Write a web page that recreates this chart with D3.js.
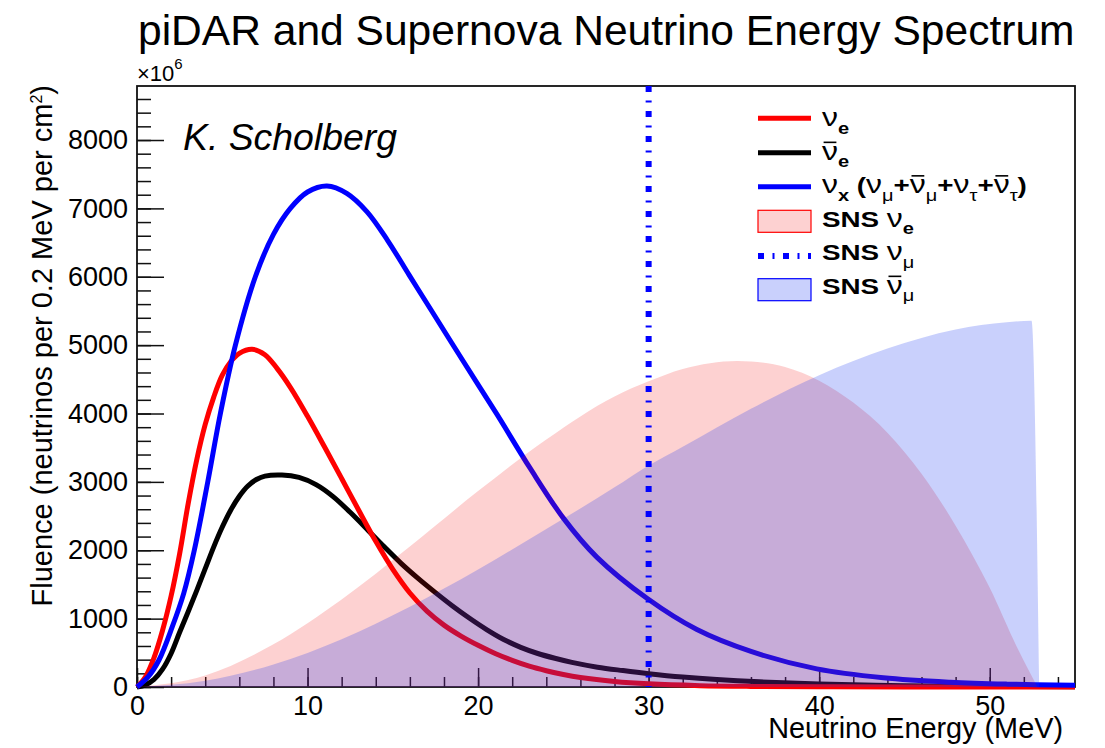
<!DOCTYPE html>
<html><head><meta charset="utf-8">
<script src="https://cdn.jsdelivr.net/npm/d3@7"></script>
<style>
body{margin:0;background:#fff}
svg{display:block}
text{font-family:"Liberation Sans",Arial,Helvetica,sans-serif;fill:#000}
</style>
</head><body>
<svg id="c" width="1105" height="748"></svg>
<script>
// ---------------- data ----------------
const chartTitle = "piDAR and Supernova Neutrino Energy Spectrum";
const xLabel = "Neutrino Energy (MeV)";
const xTicksMajor = [0, 10, 20, 30, 40, 50];
const yTicksMajor = [0, 1000, 2000, 3000, 4000, 5000, 6000, 7000, 8000];
const xDomain = [0, 55];
const yDomain = [0, 8790];

// supernova nu_e (red)
const nueE    = [0, 0.5, 1.0, 1.5, 2.0, 2.5, 3.0, 3.5, 4.0, 4.5, 5.0, 5.5, 6.0, 6.75, 7.5, 8.21, 9.0, 10, 11, 12, 13, 14, 15, 16, 17, 18, 19, 20, 21, 22, 23, 24, 25, 26, 28, 30, 33, 36, 40, 45, 55];
const nueFlux = [0, 150, 430, 830, 1330, 1950, 2680, 3320, 3840, 4240, 4560, 4760, 4880, 4940, 4860, 4660, 4380, 3960, 3510, 3050, 2585, 2130, 1720, 1375, 1110, 905, 745, 610, 490, 390, 305, 238, 182, 138, 80, 46, 20, 9, 3, 1, 0];

// supernova anti-nu_e (black)
const nuebarE    = [0, 0.5, 1.0, 1.5, 2.0, 2.5, 3.0, 3.5, 4.0, 4.5, 5.0, 5.5, 6.0, 6.5, 7.0, 7.5, 8.5, 9.5, 10.5, 11.5, 12.5, 13.5, 14.5, 15.5, 16.5, 17.5, 18.5, 19.5, 20.5, 21.5, 22.5, 23.5, 24.5, 25.5, 27, 28.5, 30, 32, 34, 36.5, 40, 45, 50, 55];
const nuebarFlux = [0, 30, 110, 260, 490, 800, 1100, 1410, 1730, 2050, 2340, 2590, 2790, 2940, 3035, 3085, 3101, 3065, 2960, 2785, 2555, 2305, 2050, 1805, 1585, 1380, 1185, 1005, 840, 695, 580, 490, 420, 360, 290, 240, 195, 145, 108, 75, 45, 20, 9, 4];

// supernova nu_x (blue)
const nuxE    = [0, 0.66, 1.29, 2.07, 2.74, 3.36, 4.15, 4.89, 5.77, 6.94, 8.0, 8.99, 10.0, 11.14, 12.3, 13.49, 14.7, 15.97, 17.18, 19.14, 21.1, 23.05, 25, 26.96, 29.9, 32.83, 36, 39.86, 43.76, 47.7, 51, 55];
const nuxFlux = [0, 151, 395, 882, 1370, 2000, 3000, 4000, 5000, 6000, 6620, 7000, 7240, 7328, 7220, 6950, 6530, 6020, 5540, 4760, 3990, 3200, 2470, 1900, 1297, 840, 520, 265, 135, 70, 42, 25];

// SNS (pion decay at rest) nu_e (pink fill)
const snsNueE    = [0, 4, 8, 12, 16, 20, 24, 28, 30, 32, 35.2, 36, 38, 40, 42, 44, 46, 48, 50, 51.6, 52.8];
const snsNueFlux = [0, 170, 625, 1280, 2055, 2865, 3620, 4250, 4470, 4650, 4768, 4760, 4680, 4480, 4160, 3720, 3120, 2360, 1450, 580, 0];

// SNS anti-nu_mu (light blue fill)
const snsNumubarE    = [0, 4, 8, 12, 16, 20, 24, 28, 30, 32, 36, 40, 44, 48, 51, 52.45, 52.9];
const snsNumubarFlux = [0, 90, 330, 700, 1175, 1720, 2310, 2920, 3240, 3515, 4070, 4560, 4950, 5230, 5335, 5355, 0];

// SNS nu_mu: monochromatic line
const snsNumuE = 30;

// ---------------- layout ----------------
const svg = d3.select("#c");
const L = 137, R = 1075, T = 86, B = 687;
const x = d3.scaleLinear().domain(xDomain).range([L, R]);
const y = d3.scaleLinear().domain(yDomain).range([B, T]);

const xMinor = d3.range(0, 55, 2);
const yMinor = d3.range(0, 8790, 200);

function styleAxis(g){
  g.select(".domain").remove();
  g.selectAll(".tick line").attr("stroke", "#111").attr("stroke-width", 1.5);
  g.selectAll(".tick text").attr("font-size", 27).attr("font-family", "Liberation Sans, Arial, sans-serif").attr("fill", "#000");
}
svg.append("g").attr("transform", `translate(${L},0)`)
  .call(d3.axisLeft(y).tickValues(yMinor).tickSize(-14).tickFormat(""))
  .call(styleAxis);
svg.append("g").attr("transform", `translate(${L},0)`)
  .call(d3.axisLeft(y).tickValues(yTicksMajor).tickSize(-27).tickPadding(9).tickFormat(d3.format("d")))
  .call(styleAxis);
svg.append("g").attr("transform", `translate(0,${B})`)
  .call(d3.axisBottom(x).tickValues(xMinor).tickSize(-10).tickFormat(""))
  .call(styleAxis);
svg.append("g").attr("transform", `translate(0,${B})`)
  .call(d3.axisBottom(x).tickValues(xTicksMajor).tickSize(-19).tickPadding(9).tickFormat(d3.format("d")))
  .call(styleAxis);

svg.append("rect").attr("x", L).attr("y", T).attr("width", R - L).attr("height", B - T)
  .attr("fill", "none").attr("stroke", "#111").attr("stroke-width", 1.8);

// supernova curves
const line = d3.line().x(d => x(d[0])).y(d => y(d[1])).curve(d3.curveCatmullRom.alpha(0.5));
const zip = (a, b) => a.map((v, i) => [v, b[i]]);
const curves = [
  {E: nuebarE, F: nuebarFlux, c: "#000000"},
  {E: nueE, F: nueFlux, c: "#ff0000"},
  {E: nuxE, F: nuxFlux, c: "#0000ff"}
];
curves.forEach(s => {
  svg.append("path").attr("d", line(zip(s.E, s.F)))
    .attr("fill", "none").attr("stroke", s.c).attr("stroke-width", 5)
    .attr("stroke-linejoin", "round");
});

// SNS fills
const area = d3.area().x(d => x(d[0])).y0(y(0)).y1(d => y(d[1])).curve(d3.curveMonotoneX);
const pinkFill = "rgba(245,10,10,0.19)";
const blueFill = "rgba(20,50,240,0.23)";
svg.append("path").attr("d", area(zip(snsNueE, snsNueFlux))).attr("fill", pinkFill);
svg.append("path").attr("d", area(zip(snsNumubarE, snsNumubarFlux))).attr("fill", blueFill);

// SNS nu_mu line
svg.append("line").attr("x1", x(snsNumuE)).attr("x2", x(snsNumuE))
  .attr("y1", T).attr("y2", B)
  .attr("stroke", "#0000ff").attr("stroke-width", 6)
  .attr("stroke-dasharray", "6,8.5,2,8.5");

// ---------------- texts ----------------
function fit(sel, w){
  const l = sel.node().getComputedTextLength();
  const fs = parseFloat(sel.attr("font-size"));
  sel.attr("font-size", fs * w / l);
}
const title = svg.append("text").attr("x", 138).attr("y", 45).attr("font-size", 40).text(chartTitle);
fit(title, 937);

const mult = svg.append("text").attr("x", 137).attr("y", 81).attr("font-size", 22);
mult.append("tspan").text("\u00d710");
mult.append("tspan").attr("dy", -12).attr("font-size", 15).text("6");

const ks = svg.append("text").attr("x", 183).attr("y", 150).attr("font-size", 34)
  .attr("font-style", "italic").text("K. Scholberg");
fit(ks, 214);

const xl = svg.append("text").attr("x", 1063).attr("y", 738).attr("font-size", 26)
  .attr("text-anchor", "end").text(xLabel);
fit(xl, 295);

const yl = svg.append("text").attr("transform", "translate(52,85) rotate(-90)")
  .attr("text-anchor", "end").attr("font-size", 25);
yl.append("tspan").text("Fluence (neutrinos per 0.2 MeV per cm");
yl.append("tspan").attr("dy", -10).attr("font-size", 16).text("2");
yl.append("tspan").attr("dy", 10).text(")");
fit(yl, 523);

// ---------------- legend ----------------
const legX0 = 758, legX1 = 811, legTX = 822;
const legBase = [126.5, 160, 193.5, 227, 260.5, 294];
const legMid  = [118.3, 152.7, 186.7, 221.3, 256, 289.7];
const NU = "\u03bd";
const legendRows = [
  [{t: NU}, {t: "e", sub: 1, b: 1}],
  [{t: NU, bar: 1}, {t: "e", sub: 1, b: 1}],
  [{t: NU}, {t: "x", sub: 1, b: 1}, {t: " (", b: 1}, {t: NU}, {t: "\u03bc", sub: 1},
   {t: "+", b: 1}, {t: NU, bar: 1}, {t: "\u03bc", sub: 1}, {t: "+", b: 1}, {t: NU}, {t: "\u03c4", sub: 1},
   {t: "+", b: 1}, {t: NU, bar: 1}, {t: "\u03c4", sub: 1}, {t: ")", b: 1}],
  [{t: "SNS ", b: 1}, {t: NU}, {t: "e", sub: 1, b: 1}],
  [{t: "SNS ", b: 1}, {t: NU}, {t: "\u03bc", sub: 1}],
  [{t: "SNS ", b: 1}, {t: NU, bar: 1}, {t: "\u03bc", sub: 1}]
];

[["#ff0000", 0], ["#000000", 1], ["#0000ff", 2]].forEach(([c, i]) => {
  svg.append("line").attr("x1", legX0).attr("x2", legX1).attr("y1", legMid[i]).attr("y2", legMid[i])
    .attr("stroke", c).attr("stroke-width", 5);
});
svg.append("rect").attr("x", legX0).attr("y", legMid[3] - 11).attr("width", legX1 - legX0).attr("height", 22)
  .attr("fill", pinkFill).attr("stroke", "#ff0000").attr("stroke-width", 1.2);
svg.append("line").attr("x1", legX0).attr("x2", legX1).attr("y1", legMid[4]).attr("y2", legMid[4])
  .attr("stroke", "#0000ff").attr("stroke-width", 6).attr("stroke-dasharray", "6,8.5,2,8.5");
svg.append("rect").attr("x", legX0).attr("y", legMid[5] - 11).attr("width", legX1 - legX0).attr("height", 22)
  .attr("fill", blueFill).attr("stroke", "#0000ff").attr("stroke-width", 1.2);

const S = 22;
const legText = svg.append("g");
function rich(g, yb, parts){
  const t = g.append("text").attr("x", legTX).attr("y", yb).attr("font-size", S);
  let cur = 0, idx = 0;
  const bars = [];
  parts.forEach(p => {
    const fs = p.sub ? S * 0.72 : (p.t === NU ? S * 1.15 : S);
    const off = p.sub ? S * 0.32 : 0;
    const ts = t.append("tspan").attr("font-size", fs)
      .attr("font-weight", p.b ? "bold" : "normal").text(p.t);
    if (off !== cur) { ts.attr("dy", off - cur); cur = off; }
    if (p.bar) bars.push(idx);
    idx += p.t.length;
  });
  bars.forEach(k => {
    const e = t.node().getExtentOfChar(k);
    const by = yb - S * 1.15 * 0.52 - 4.5;
    g.append("line").attr("x1", e.x + e.width * 0.1).attr("x2", e.x + e.width * 0.9)
      .attr("y1", by).attr("y2", by).attr("stroke", "#000").attr("stroke-width", 1.6);
  });
  return t;
}
const rowsDrawn = legendRows.map((parts, i) => rich(legText, legBase[i], parts));
const w3 = rowsDrawn[2].node().getComputedTextLength();
const sx = 205 / w3;
legText.attr("transform", `translate(${legTX},0) scale(${sx},1) translate(${-legTX},0)`);
</script>
</body></html>
